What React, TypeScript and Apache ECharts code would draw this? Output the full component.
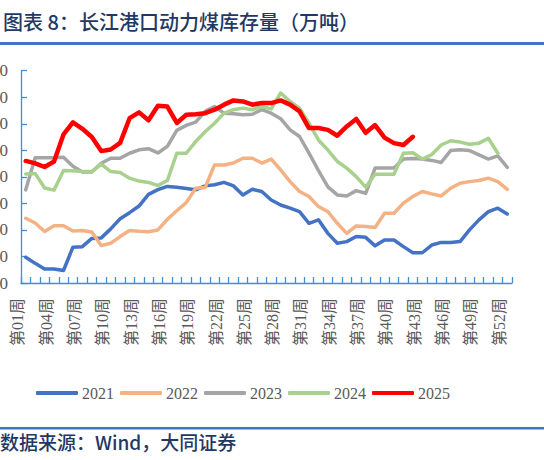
import React, { useEffect, useRef } from "react";
import * as echarts from "echarts";

const weeks: string[] = Array.from({ length: 52 }, (_, i) => `第${String(i + 1).padStart(2, "0")}周`);

const years = ["2021", "2022", "2023", "2024", "2025"];
const colors = ["#4472C4", "#F4B183", "#A5A5A5", "#A9D18E", "#FF0000"];

const y2021 = [97, 74, 53, 53, 47, 135, 137, 168, 170, 204, 242, 265, 290, 334, 352, 364, 361, 356, 351, 366, 370, 379, 366, 332, 353, 345, 313, 294, 282, 269, 225, 238, 187, 150, 156, 175, 172, 140, 162, 162, 137, 114, 114, 143, 153, 153, 156, 200, 238, 269, 282, 260];
const y2022 = [244, 226, 194, 216, 216, 196, 198, 192, 141, 150, 175, 198, 195, 193, 200, 240, 272, 303, 357, 360, 445, 445, 452, 470, 470, 452, 467, 426, 382, 345, 326, 288, 269, 225, 187, 215, 213, 209, 263, 263, 301, 326, 345, 336, 328, 357, 376, 382, 386, 395, 382, 353];
const y2023 = [351, 472, 472, 472, 474, 440, 418, 418, 451, 470, 470, 489, 502, 506, 490, 515, 575, 594, 606, 647, 665, 640, 638, 634, 636, 653, 640, 619, 577, 552, 489, 424, 362, 332, 328, 348, 338, 433, 433, 433, 467, 469, 467, 462, 454, 499, 502, 499, 483, 467, 479, 436];
const y2024 = [411, 413, 358, 350, 424, 423, 420, 420, 448, 420, 416, 395, 384, 379, 367, 386, 489, 489, 533, 570, 602, 640, 653, 659, 653, 665, 656, 716, 684, 659, 602, 539, 501, 458, 433, 401, 361, 410, 410, 410, 489, 491, 467, 484, 520, 536, 531, 523, 527, 545, 489];
const y2025 = [460, 451, 437, 458, 560, 605, 581, 550, 497, 503, 528, 621, 643, 613, 668, 665, 603, 634, 636, 640, 653, 672, 688, 684, 672, 678, 678, 688, 672, 647, 584, 584, 577, 555, 590, 618, 566, 595, 548, 527, 520, 551];

const seriesData = [y2021, y2022, y2023, y2024, y2025];

const yMin = 0;
const yMax = 800;
const yStep = 100;

const title = "图表 8：长江港口动力煤库存量（万吨）";
const source = "数据来源：Wind，大同证券";

const axisBlue = "#3D8FD8";
const navy = "#1F3864";
const ruleBlue = "#4472C4";
const serif = "'Liberation Serif', 'Noto Sans CJK SC', serif";

export default function App() {
  const ref = useRef<HTMLDivElement>(null);

  useEffect(() => {
    if (!ref.current) return;
    const chart = echarts.init(ref.current, undefined, { renderer: "svg" });
    chart.setOption({
      animation: false,
      backgroundColor: "#ffffff",
      grid: { left: 21, right: 32, top: 70.7, bottom: 177, containLabel: false, outerBoundsMode: "none" },
      legend: {
        left: 31,
        top: 380,
        itemWidth: 42,
        itemHeight: 4,
        itemGap: 6,
        icon: "roundRect",
        textStyle: { color: "#595959", fontSize: 16, fontFamily: serif, padding: [0, 0, 0, -1] },
        data: years,
      },
      xAxis: {
        type: "category",
        data: weeks,
        boundaryGap: true,
        axisLine: { lineStyle: { color: axisBlue, width: 1.3 } },
        axisTick: { show: true, inside: true, length: 6, interval: 0, lineStyle: { color: axisBlue, width: 1.3 } },
        axisLabel: {
          interval: 2,
          rotate: 90,
          margin: 15,
          color: "#595959",
          fontSize: 16,
          fontFamily: serif,
          verticalAlign: "bottom",
        },
        splitLine: { show: false },
      },
      yAxis: {
        type: "value",
        min: yMin,
        max: yMax,
        interval: yStep,
        axisLine: { show: true, lineStyle: { color: axisBlue, width: 1.3 } },
        axisTick: { show: true, inside: true, length: 6, lineStyle: { color: axisBlue, width: 1.3 } },
        axisLabel: { margin: 13, color: "#595959", fontSize: 17, fontFamily: serif },
        splitLine: { show: false },
      },
      series: years.map((y, i) => ({
        name: y,
        type: "line",
        data: seriesData[i],
        symbol: "none",
        smooth: false,
        z: 2 + i,
        lineStyle: { color: colors[i], width: i === 4 ? 4.5 : 3.5, cap: "round", join: "round" },
        itemStyle: { color: colors[i] },
      })),
      graphic: [
        {
          type: "text",
          left: 3,
          top: 11,
          style: { text: title, fill: navy, font: "500 20px 'Noto Sans CJK SC', sans-serif" },
        },
        {
          type: "rect",
          shape: { x: 0, y: 42, width: 544, height: 3 },
          style: { fill: ruleBlue },
        },
        {
          type: "rect",
          shape: { x: 0, y: 427, width: 544, height: 2.5 },
          style: { fill: ruleBlue },
        },
        {
          type: "text",
          left: 0,
          top: 432,
          style: { text: source, fill: navy, font: "500 19px 'Noto Sans CJK SC', sans-serif" },
        },
      ],
    });
    return () => chart.dispose();
  }, []);

  return (
    <div style={{ position: "absolute", left: 0, top: 0, width: 544, height: 460, background: "#fff" }}>
      <div ref={ref} style={{ width: 544, height: 460 }} />
    </div>
  );
}
